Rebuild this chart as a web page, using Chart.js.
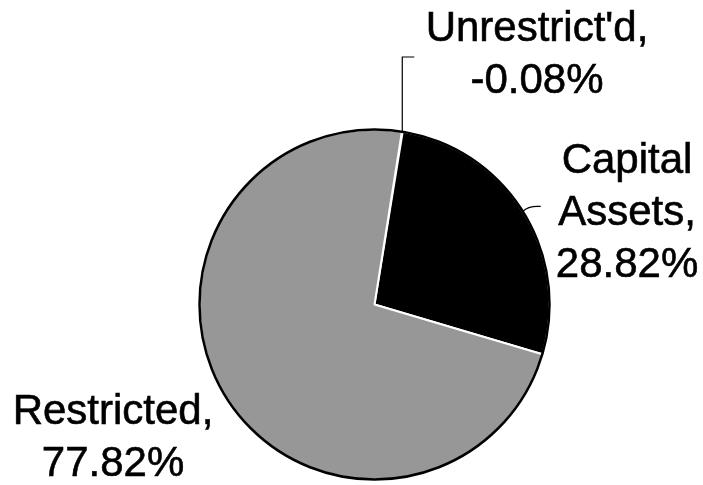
<!DOCTYPE html>
<html>
<head>
<meta charset="utf-8">
<script src="https://cdn.jsdelivr.net/npm/chart.js@4/dist/chart.umd.min.js"></script>
<style>
  html, body { margin: 0; padding: 0; background: #fff; }
  #wrap { width: 703px; height: 485px; position: relative; }
</style>
</head>
<body>
<div id="wrap"><canvas id="fundPie"></canvas></div>
<script>
// chart data
const categories = ["Unrestrict'd", "Capital Assets", "Restricted"];
const shares = [-0.08, 28.82, 77.82];
const sliceColors = ["#000000", "#000000", "#979797"];

// label placement (centre x, first baseline, wrap words onto lines)
const labelSpots = [
  { x: 537, y: 41, wrap: false },
  { x: 627, y: 173, wrap: true },
  { x: 113, y: 424, wrap: false }
];

// ---- labels + leader lines + outer ring ----
const pieDecor = {
  id: "pieDecor",
  afterDatasetsDraw(chart) {
    const ctx = chart.ctx;
    const arcs = chart.getDatasetMeta(0).data;
    const a0 = arcs[0];

    // black outer edge
    ctx.save();
    ctx.beginPath();
    ctx.arc(a0.x, a0.y, a0.outerRadius, 0, Math.PI * 2);
    ctx.lineWidth = 2.5;
    ctx.strokeStyle = "#000";
    ctx.stroke();

    // leader lines
    ctx.lineWidth = 1.2;
    const edge = (arc) => {
      const mid = (arc.startAngle + arc.endAngle) / 2;
      return [arc.x + Math.cos(mid) * arc.outerRadius, arc.y + Math.sin(mid) * arc.outerRadius];
    };
    let p = edge(arcs[0]);
    ctx.beginPath();
    ctx.moveTo(p[0], p[1]);
    ctx.lineTo(p[0], 57);
    ctx.lineTo(p[0] + 12, 57);
    ctx.stroke();

    p = edge(arcs[1]);
    ctx.beginPath();
    ctx.moveTo(p[0], p[1]);
    ctx.quadraticCurveTo(p[0] + 6, p[1] - 6, p[0] + 18, p[1] - 5);
    ctx.stroke();

    // text
    ctx.fillStyle = "#000";
    ctx.strokeStyle = "#000";
    ctx.lineWidth = 0.6;
    ctx.font = "42px 'Liberation Sans', Arial, sans-serif";
    ctx.textAlign = "center";
    ctx.textBaseline = "alphabetic";
    categories.forEach((name, i) => {
      const spot = labelSpots[i];
      const words = spot.wrap ? name.split(" ") : [name];
      words[words.length - 1] += ",";
      const lines = words.concat([shares[i].toFixed(2) + "%"]);
      lines.forEach((line, j) => {
        const y = spot.y + j * 52;
        ctx.fillText(line, spot.x, y);
        ctx.strokeText(line, spot.x, y);
      });
    });
    ctx.restore();
  }
};

new Chart(document.getElementById("fundPie"), {
  type: "pie",
  data: {
    labels: categories,
    datasets: [{
      data: shares,
      backgroundColor: sliceColors,
      borderColor: "#ffffff",
      borderWidth: 2,
      radius: 175
    }]
  },
  options: {
    responsive: true,
    maintainAspectRatio: false,
    animation: false,
    events: [],
    rotation: 9,
    layout: { padding: { left: 46, right: 0, top: 124, bottom: 0 } },
    plugins: {
      legend: { display: false },
      tooltip: { enabled: false }
    }
  },
  plugins: [pieDecor]
});
</script>
</body>
</html>
